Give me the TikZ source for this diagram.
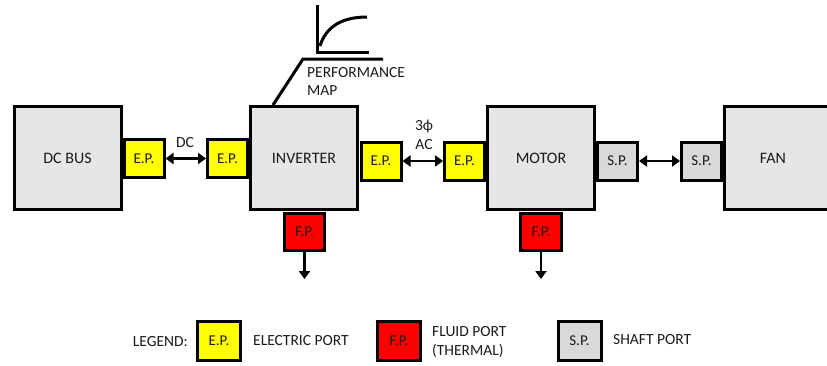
\documentclass[tikz,border=0pt]{standalone}
\usepackage{fontspec}
\setmainfont{Carlito}
\usetikzlibrary{arrows.meta}
\definecolor{boxgray}{HTML}{E6E6E6}
\definecolor{spgray}{HTML}{D9D9D9}
\definecolor{epyellow}{HTML}{FFFF00}
\definecolor{fpred}{HTML}{FF0000}
\definecolor{txt}{HTML}{1A1A1A}
\tikzset{
  blk/.style={draw, line width=3pt, fill=boxgray, inner sep=0pt, outer sep=0pt,
    minimum width=107pt, minimum height=103pt, text=txt, font=\fontsize{16}{19}\selectfont},
  portbox/.style={draw, line width=3pt, inner sep=0pt, outer sep=0pt, text=txt,
    minimum width=40pt, minimum height=38pt, font=\fontsize{15}{17}\selectfont},
  epbox/.style={portbox, fill=epyellow},
  fpbox/.style={portbox, fill=fpred, minimum height=37pt},
  spbox/.style={portbox, fill=spgray},
  legbox/.style={portbox, minimum width=43pt, minimum height=39pt},
  lbl/.style={inner sep=0pt, text=txt, font=\fontsize{15.5}{17}\selectfont},
  biarrow/.style={line width=2.5pt, {Triangle[length=8pt,width=11pt]}-{Triangle[length=8pt,width=11pt]}, shorten <=1.5pt, shorten >=1.5pt},
  dnarrow/.style={line width=2.5pt, -{Triangle[length=8pt,width=11pt]}, shorten <=1.5pt},
  thickline/.style={line width=3pt}
}
\begin{document}
\begin{tikzpicture}[x=1pt,y=-1pt]
\useasboundingbox (0,0) rectangle (827,365);
\clip (0,0) rectangle (827,365);
% main blocks
\node[blk] (dcbus) at (67.5,158) {DC BUS};
\node[blk] (inv) at (304,158) {INVERTER};
\node[blk] (motor) at (541,158) {MOTOR};
\node[blk, minimum width=130pt, inner sep=0pt] (fan) at (789.5,158) {};
\node[lbl, font=\fontsize{16}{19}\selectfont] (fantxt) at (773,158) {FAN};
% ports
\node[epbox] (ep1) at (144,158.5) {E.P.};
\node[epbox] (ep2) at (227.5,158.5) {E.P.};
\node[epbox] (ep3) at (381,161) {E.P.};
\node[epbox] (ep4) at (464.5,161) {E.P.};
\node[spbox] (sp1) at (617.5,161) {S.P.};
\node[spbox] (sp2) at (701.5,161) {S.P.};
\node[fpbox] (fp1) at (304.5,232) {F.P.};
\node[fpbox, minimum width=41pt] (fp2) at (541,232) {F.P.};
% connectors
\draw[biarrow] (ep1.east) -- (ep2.west);
\draw[biarrow] (ep3.east) -- (ep4.west);
\draw[biarrow] (sp1.east) -- (sp2.west);
\coordinate (fp1end) at (304.5,279);
\coordinate (fp2end) at (541,279);
\draw[dnarrow] (fp1.south) -- (fp1end);
\draw[dnarrow] (fp2.south) -- (fp2end);
% connector labels
\node[lbl] (dclbl) at (185,143) {DC};
\node[lbl] (phlbl) at (424,127) {3ϕ};
\node[lbl] (aclbl) at (424,145) {AC};
% performance map
\coordinate (pmfoot) at (273,105);
\coordinate (pmknee) at (303,59);
\coordinate (pmend) at (383,59);
\draw[thickline] (pmfoot) -- (pmknee) -- (pmend);
\coordinate (axtop) at (317,5);
\coordinate (axorig) at (317,52);
\coordinate (axright) at (369,52);
\draw[thickline] (axtop) -- (axorig) -- (axright);
\draw[thickline] (320,46) .. controls (326,26) and (343,17) .. (367,17);
\node[lbl, anchor=west] (pmt1) at (307,73) {PERFORMANCE};
\node[lbl, anchor=west] (pmt2) at (307,91) {MAP};
% legend
\node[lbl, anchor=east] (legtxt) at (188,342) {LEGEND:};
\node[legbox, fill=epyellow] (lep) at (219,341) {E.P.};
\node[lbl, anchor=west] (lept) at (253,341) {ELECTRIC PORT};
\node[legbox, fill=fpred] (lfp) at (399,341) {F.P.};
\node[lbl, anchor=west] (lfpt1) at (432,332) {FLUID PORT};
\node[lbl, anchor=west] (lfpt2) at (432,351) {(THERMAL)};
\node[legbox, fill=spgray] (lsp) at (579.5,341) {S.P.};
\node[lbl, anchor=west] (lspt) at (613,340) {SHAFT PORT};
\end{tikzpicture}
\end{document}
